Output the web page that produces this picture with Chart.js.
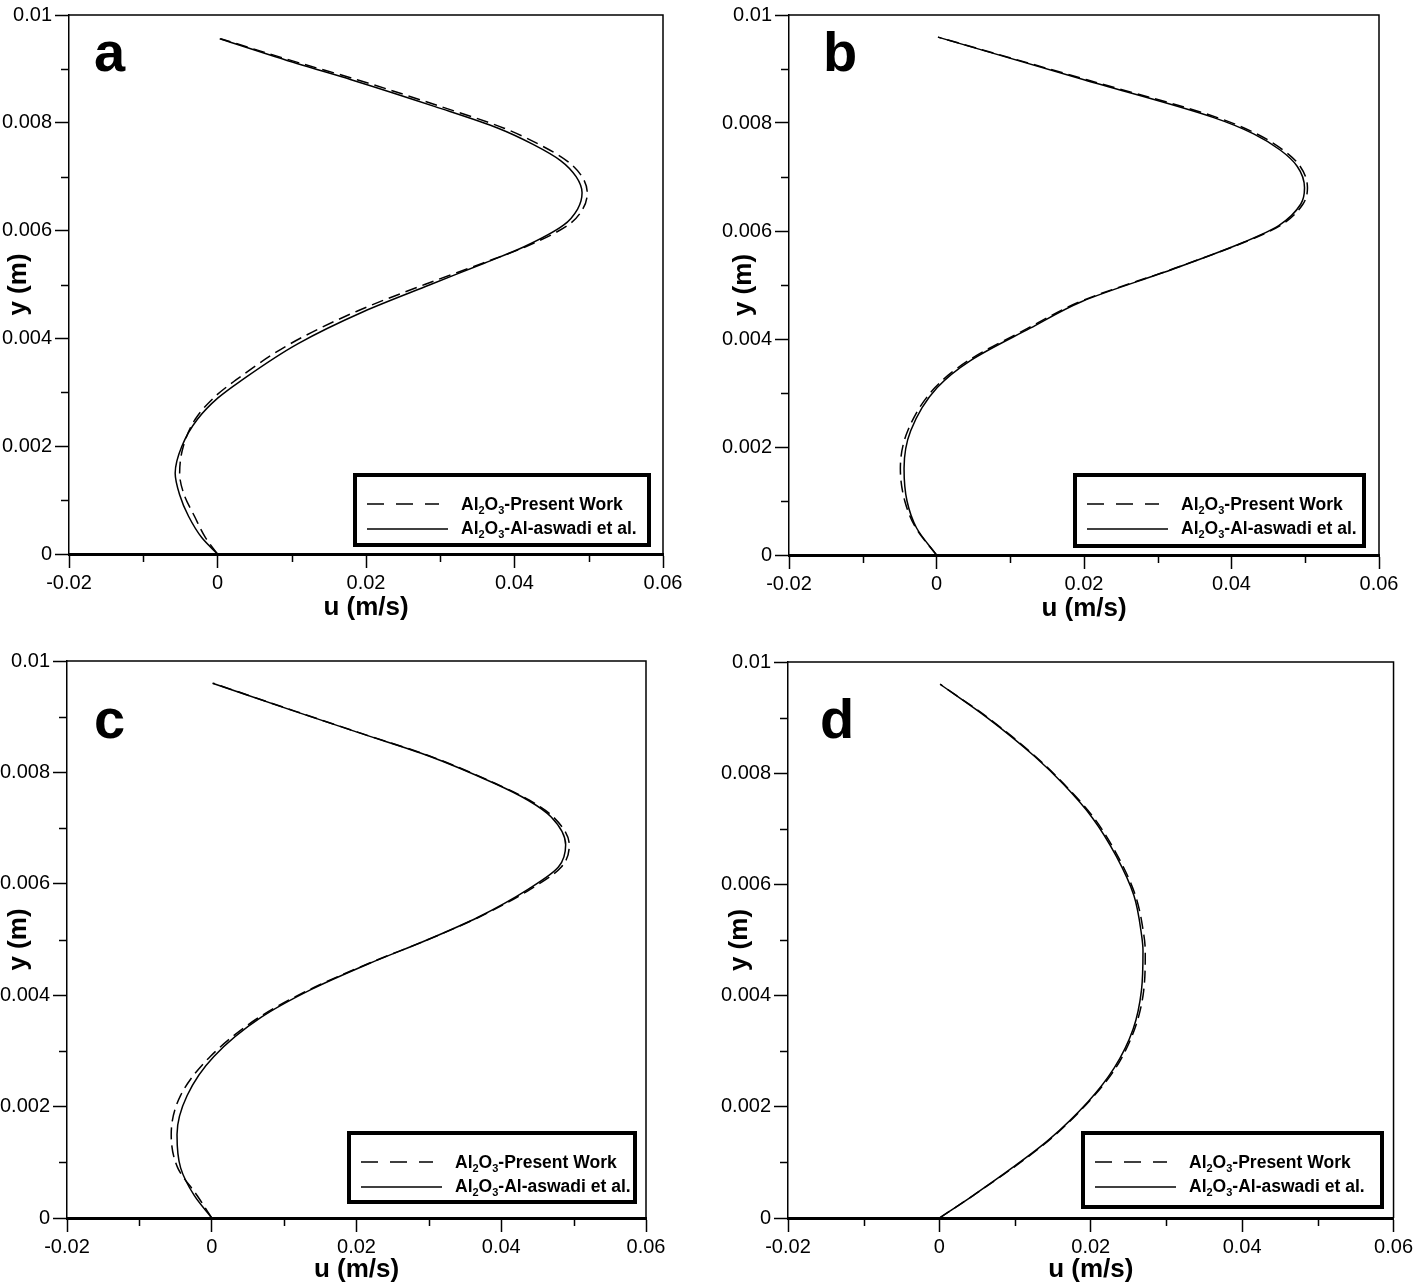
<!DOCTYPE html>
<html>
<head>
<meta charset="utf-8">
<script src="https://cdn.jsdelivr.net/npm/chart.js@4.4.0/dist/chart.umd.min.js"></script>
<style>
  body { margin: 0; background: #fff; width: 1416px; height: 1288px; overflow: hidden; position: relative; }
  canvas { position: absolute; }
</style>
</head>
<body>
<canvas id="panelA" width="708" height="644" style="left:0;top:0"></canvas>
<canvas id="panelB" width="708" height="644" style="left:708px;top:0"></canvas>
<canvas id="panelC" width="708" height="644" style="left:0;top:644px"></canvas>
<canvas id="panelD" width="708" height="644" style="left:708px;top:644px"></canvas>
<script>
// ---------- data ----------
const xTicks = [-0.02, 0, 0.02, 0.04, 0.06];
const xTickLabels = ['-0.02', '0', '0.02', '0.04', '0.06'];
const xMinorTicks = [-0.01, 0.01, 0.03, 0.05];
const yTicks = [0, 0.002, 0.004, 0.006, 0.008, 0.01];
const yTickLabels = ['0', '0.002', '0.004', '0.006', '0.008', '0.01'];
const yMinorTicks = [0.001, 0.003, 0.005, 0.007, 0.009];
const legendLabels = ['Al2O3-Present Work', 'Al2O3-Al-aswadi et al.'];
const seriesNames = ['Al₂O₃-Present Work', 'Al₂O₃-Al-aswadi et al.'];

// panel a
const yA = [0, 0.0003, 0.0007, 0.0011, 0.0015, 0.002, 0.0025, 0.0029, 0.0032, 0.0039, 0.0045, 0.005, 0.0054, 0.0057, 0.0061, 0.0064, 0.0067, 0.007, 0.0073, 0.0076, 0.0079, 0.0083, 0.0088, 0.0091, 0.00956];
const uA_present = [0, -0.0016, -0.0031, -0.0045, -0.0051, -0.0046, -0.0030, -0.0005, 0.0022, 0.0098, 0.0187, 0.0279, 0.0358, 0.0415, 0.0472, 0.0492, 0.0498, 0.0491, 0.0470, 0.0433, 0.0386, 0.0301, 0.0188, 0.0113, 0.0004];
const uA_aswadi = [0, -0.0021, -0.0039, -0.0051, -0.0057, -0.0048, -0.0027, 0.0001, 0.0030, 0.0108, 0.0197, 0.0287, 0.0360, 0.0413, 0.0466, 0.0485, 0.0491, 0.0483, 0.0462, 0.0425, 0.0378, 0.0293, 0.0180, 0.0107, 0.0003];

// panel b
const yB = [0, 0.0005, 0.001, 0.0016, 0.0023, 0.0031, 0.0036, 0.0042, 0.0047, 0.0053, 0.0058, 0.0061, 0.0065, 0.0068, 0.0072, 0.0075, 0.0078, 0.0081, 0.0088, 0.00959];
const uB_present = [0, -0.0028, -0.0043, -0.0049, -0.0039, -0.0002, 0.0043, 0.0124, 0.0196, 0.0321, 0.0419, 0.0466, 0.0497, 0.0503, 0.0493, 0.0470, 0.0434, 0.0381, 0.0204, 0.0002];
const uB_aswadi = [0, -0.0027, -0.0040, -0.0044, -0.0035, 0.0001, 0.0046, 0.0127, 0.0198, 0.0322, 0.0418, 0.0464, 0.0494, 0.0499, 0.0489, 0.0466, 0.0430, 0.0376, 0.0200, 0.0002];

// panel c
const yC = [0, 0.0004, 0.0009, 0.0015, 0.0022, 0.0029, 0.0036, 0.0041, 0.00456, 0.005, 0.0054, 0.0059, 0.0063, 0.0067, 0.0072, 0.0075, 0.0078, 0.0083, 0.0087, 0.0091, 0.0096];
const uC_present = [0, -0.0020, -0.0047, -0.0056, -0.0043, -0.0002, 0.0065, 0.0135, 0.0215, 0.0299, 0.0369, 0.0440, 0.0483, 0.0494, 0.0472, 0.0439, 0.0392, 0.0300, 0.0207, 0.0115, 0.0002];
const uC_aswadi = [0, -0.0024, -0.0043, -0.0048, -0.0034, 0.0003, 0.0068, 0.0137, 0.0216, 0.0299, 0.0368, 0.0437, 0.0479, 0.0489, 0.0469, 0.0437, 0.0391, 0.0299, 0.0206, 0.0114, 0.0001];

// panel d
const yD = [0, 0.0004, 0.0009, 0.0014, 0.0021, 0.0027, 0.0034, 0.0041, 0.0048, 0.0051, 0.0058, 0.0065, 0.0072, 0.0078, 0.0083, 0.009, 0.0096];
const uD_present = [0, 0.0044, 0.0097, 0.0145, 0.0198, 0.0233, 0.0258, 0.0270, 0.0272, 0.0270, 0.0259, 0.0236, 0.0204, 0.0165, 0.0127, 0.0064, 0.0001];
const uD_aswadi = [0, 0.0044, 0.0096, 0.0144, 0.0197, 0.0231, 0.0256, 0.0267, 0.0269, 0.0267, 0.0257, 0.0234, 0.0202, 0.0164, 0.0126, 0.0063, 0.0001];

// ---------- layout of each panel (canvas pixels) ----------
const panels = [
  { id: 'panelA', letter: 'a', y: yA, present: uA_present, aswadi: uA_aswadi,
    yW: 69, padTop: 7, padRight: 45, xH: 90, xTitlePad: 21, yTitlePad: 3,
    letterPos: [94, 71], box: [353, 473, 298, 74] },
  { id: 'panelB', letter: 'b', y: yB, present: uB_present, aswadi: uB_aswadi,
    yW: 81, padTop: 15, padRight: 37, xH: 89, xTitlePad: 20, yTitlePad: 20,
    letterPos: [115, 71], box: [365, 473, 293, 75] },
  { id: 'panelC', letter: 'c', y: yC, present: uC_present, aswadi: uC_aswadi,
    yW: 67, padTop: 17, padRight: 62, xH: 70, xTitlePad: 3, yTitlePad: 3,
    letterPos: [94, 94], box: [347, 487, 290, 73] },
  { id: 'panelD', letter: 'd', y: yD, present: uD_present, aswadi: uD_aswadi,
    yW: 80, padTop: 18, padRight: 22, xH: 70, xTitlePad: 3, yTitlePad: 16,
    letterPos: [112, 94], box: [373, 487, 303, 78] }
];

const FONT = "'Liberation Sans', Arial, Helvetica, sans-serif";
Chart.defaults.font.family = FONT;
Chart.defaults.color = '#000';

// text with digits drawn as subscripts (Al2O3)
function drawRich(ctx, text, x, y) {
  text.split(/(\d)/).forEach(part => {
    if (!part) return;
    const sub = /^\d$/.test(part);
    ctx.font = sub ? `bold 11px ${FONT}` : `bold 17.5px ${FONT}`;
    ctx.fillText(part, x, sub ? y + 4 : y);
    x += ctx.measureText(part).width;
  });
}

const figurePlugin = {
  id: 'figure',
  afterDraw(chart, args, opts) {
    const { ctx, chartArea: a, scales: { x, y } } = chart;
    ctx.save();
    ctx.strokeStyle = '#000';
    ctx.fillStyle = '#000';

    // top and right frame
    ctx.lineWidth = 1.5;
    ctx.beginPath();
    ctx.moveTo(a.left, a.top);
    ctx.lineTo(a.right, a.top);
    ctx.lineTo(a.right, a.bottom);
    ctx.stroke();

    // minor ticks
    ctx.beginPath();
    xMinorTicks.forEach(v => {
      const px = Math.round(x.getPixelForValue(v)) + 0.5;
      ctx.moveTo(px, a.bottom);
      ctx.lineTo(px, a.bottom + 8);
    });
    yMinorTicks.forEach(v => {
      const py = Math.round(y.getPixelForValue(v)) + 0.5;
      ctx.moveTo(a.left, py);
      ctx.lineTo(a.left - 8, py);
    });
    ctx.stroke();

    // panel letter
    ctx.font = `bold 56px ${FONT}`;
    ctx.textBaseline = 'alphabetic';
    ctx.fillText(opts.letter, opts.letterPos[0], opts.letterPos[1]);

    // legend box
    const [bx, by, bw, bh] = opts.box;
    ctx.fillStyle = '#fff';
    ctx.fillRect(bx, by, bw, bh);
    ctx.lineWidth = 4;
    ctx.strokeRect(bx + 2, by + 2, bw - 4, bh - 4);
    ctx.fillStyle = '#000';
    ctx.lineWidth = 1.5;
    ctx.setLineDash([17, 12]);
    ctx.beginPath();
    ctx.moveTo(bx + 14, by + 31);
    ctx.lineTo(bx + 86, by + 31);
    ctx.stroke();
    ctx.setLineDash([]);
    ctx.beginPath();
    ctx.moveTo(bx + 14, by + 56);
    ctx.lineTo(bx + 95, by + 56);
    ctx.stroke();
    drawRich(ctx, legendLabels[0], bx + 108, by + 37);
    drawRich(ctx, legendLabels[1], bx + 108, by + 61);
    ctx.restore();
  }
};

function toPoints(us, ys) {
  return us.map((u, i) => ({ x: u, y: ys[i] }));
}

panels.forEach(p => {
  new Chart(document.getElementById(p.id), {
    type: 'line',
    data: {
      datasets: [
        { label: seriesNames[0], data: toPoints(p.present, p.y), cubicInterpolationMode: 'monotone',
          borderColor: '#000', borderWidth: 1.5, borderDash: [12, 6], pointRadius: 0, fill: false },
        { label: seriesNames[1], data: toPoints(p.aswadi, p.y), cubicInterpolationMode: 'monotone',
          borderColor: '#000', borderWidth: 1.5, pointRadius: 0, fill: false }
      ]
    },
    options: {
      indexAxis: 'y',
      responsive: false,
      animation: false,
      events: [],
      layout: { padding: { top: p.padTop, right: p.padRight, left: 0, bottom: 0 } },
      plugins: {
        legend: { display: false },
        tooltip: { enabled: false },
        figure: { letter: p.letter, letterPos: p.letterPos, box: p.box }
      },
      scales: {
        x: {
          type: 'linear', min: -0.02, max: 0.06,
          afterBuildTicks: s => { s.ticks = xTicks.map(v => ({ value: v })); },
          afterFit: s => { s.height = p.xH; },
          ticks: { callback: (v, i) => xTickLabels[i], font: { size: 20 }, color: '#000', padding: 3, maxRotation: 0, autoSkip: false },
          grid: { drawOnChartArea: false, drawTicks: true, tickLength: 14, tickWidth: 1.5, tickColor: '#000' },
          border: { display: true, color: '#000', width: 3 },
          title: { display: true, text: 'u (m/s)', color: '#000', font: { size: 26, weight: 'bold' }, padding: { top: 0, bottom: p.xTitlePad } }
        },
        y: {
          type: 'linear', min: 0, max: 0.01,
          afterBuildTicks: s => { s.ticks = yTicks.map(v => ({ value: v })); },
          afterFit: s => { s.width = p.yW; },
          ticks: { callback: (v, i) => yTickLabels[i], font: { size: 20 }, color: '#000', padding: 3, autoSkip: false },
          grid: { drawOnChartArea: false, drawTicks: true, tickLength: 14, tickWidth: 1.5, tickColor: '#000' },
          border: { display: true, color: '#000', width: 1.5 },
          title: { display: true, text: 'y (m)', color: '#000', font: { size: 26, weight: 'bold' }, padding: { top: p.yTitlePad, bottom: 0 } }
        }
      }
    },
    plugins: [figurePlugin]
  });
});
</script>
</body>
</html>
